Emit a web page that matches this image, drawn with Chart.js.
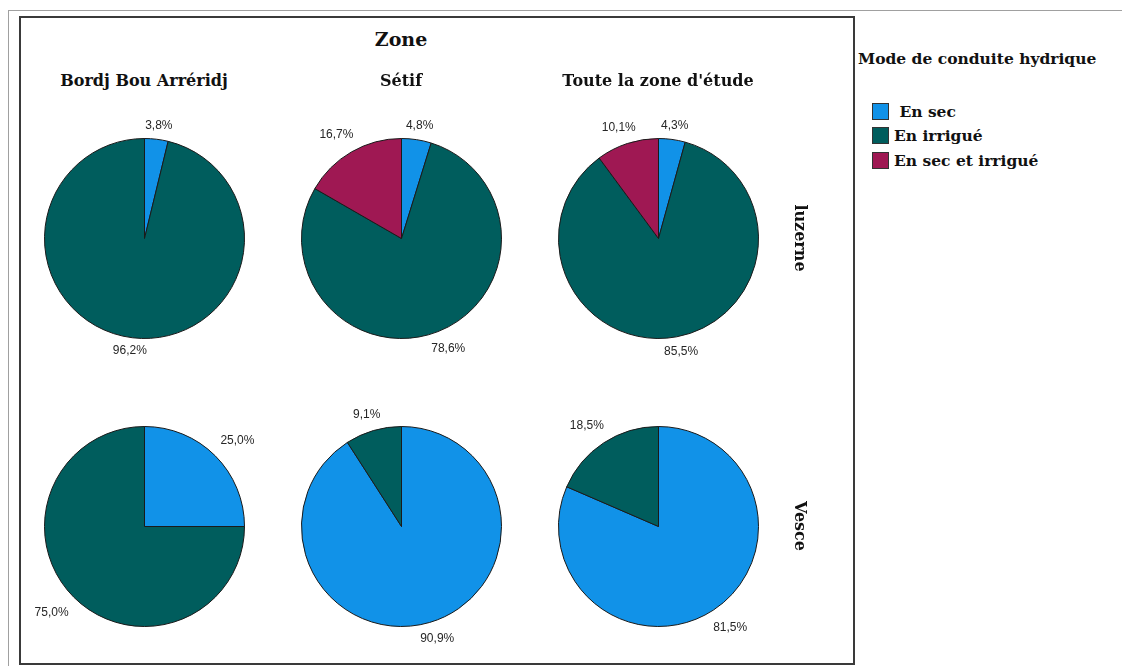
<!DOCTYPE html>
<html>
<head>
<meta charset="utf-8">
<script src="https://cdn.jsdelivr.net/npm/chart.js@4.4.1/dist/chart.umd.min.js"></script>
<style>
    body { margin: 0; background: #fff; width: 1122px; height: 666px; overflow: hidden; position: relative; font-family: "DejaVu Serif", serif; }
    #outer { position: absolute; left: 8px; top: 10px; width: 1114px; height: 660px; border-top: 1px solid #a0a0a0; border-left: 1px solid #a0a0a0; }
    #frame { position: absolute; left: 19px; top: 16px; width: 832px; height: 645px; border: 2px solid #3a3a3a; }
    .txt { position: absolute; transform: translate(-50%, -50%); white-space: nowrap; font-weight: bold; color: #111; }
    .title { font-size: 19px; }
    .head { font-size: 16px; }
    .row { font-size: 16px; writing-mode: vertical-rl; }
    .pie { position: absolute; width: 281px; height: 281px; }
    #legend { position: absolute; left: 858px; top: 49px; font-weight: bold; color: #111; }
    #legend .ltitle { font-size: 15.5px; margin-bottom: 31px; white-space: nowrap; }
    #legend .item { display: flex; align-items: center; height: 24.5px; font-size: 15.5px; margin-left: 14px; white-space: nowrap; }
    #legend .box { width: 15px; height: 15px; border: 1px solid #333; margin-right: 5px; }
</style>
</head>
<body>
<div id="outer"></div>
<div id="frame"></div>
<div class="txt title" style="left:401px;top:39px">Zone</div>
<div id="pies"></div>
<div id="legend"></div>

<script>
const categories = ['En sec', 'En irrigué', 'En sec et irrigué'];
const zones = ['Bordj Bou Arréridj', 'Sétif', "Toute la zone d'étude"];
const crops = ['luzerne', 'Vesce'];

// % per zone, in category order
const luzerneValues = [
    [3.8, 96.2, 0],
    [4.8, 78.6, 16.7],
    [4.3, 85.5, 10.1]
];
const vesceValues = [
    [25.0, 75.0, 0],
    [90.9, 9.1, 0],
    [81.5, 18.5, 0]
];

const colors = ['#1192e8', '#005d5d', '#9f1853'];
const colX = [144, 401, 658];
const rowY = [238, 526];

// percentage labels outside each slice
const pctLabels = {
    id: 'pctLabels',
    afterDatasetsDraw(chart) {
        const ctx = chart.ctx;
        const values = chart.data.datasets[0].data;
        ctx.save();
        ctx.font = '12px "Liberation Sans", Arial, sans-serif';
        ctx.fillStyle = '#262626';
        ctx.textAlign = 'center';
        ctx.textBaseline = 'middle';
        chart.getDatasetMeta(0).data.forEach((arc, i) => {
            const v = values[i];
            if (!v) return;
            const p = arc.getProps(['x', 'y', 'startAngle', 'endAngle', 'outerRadius'], true);
            const mid = (p.startAngle + p.endAngle) / 2;
            const cos = Math.cos(mid), sin = Math.sin(mid);
            const text = v.toFixed(1).replace('.', ',') + '%';
            const w = ctx.measureText(text).width;
            // corner labels sit a little further out
            const r = (p.outerRadius + 4) * (1 + 0.1 * Math.abs(Math.sin(2 * mid)));
            ctx.fillText(text, p.x + cos * (r + w / 2), p.y + sin * (r + 7));
        });
        ctx.restore();
    }
};

function addText(cls, text, x, y) {
    const el = document.createElement('div');
    el.className = 'txt ' + cls;
    el.style.left = x + 'px';
    el.style.top = y + 'px';
    el.textContent = text;
    document.body.appendChild(el);
}

function drawPie(values, cx, cy) {
    const wrap = document.createElement('div');
    wrap.className = 'pie';
    wrap.style.left = (cx - 140) + 'px';
    wrap.style.top = (cy - 140) + 'px';
    const canvas = document.createElement('canvas');
    canvas.width = 281;
    canvas.height = 281;
    wrap.appendChild(canvas);
    document.getElementById('pies').appendChild(wrap);

    new Chart(canvas.getContext('2d'), {
        type: 'pie',
        data: {
            labels: categories,
            datasets: [{
                data: values,
                backgroundColor: colors,
                borderColor: '#1a1a1a',
                borderWidth: 1
            }]
        },
        options: {
            responsive: false,
            animation: false,
            layout: { padding: 40 },
            plugins: { legend: { display: false }, tooltip: { enabled: false } }
        },
        plugins: [pctLabels]
    });
}

zones.forEach((z, i) => addText('head', z, colX[i], 80));
crops.forEach((c, i) => addText('row', c, 800, rowY[i]));

luzerneValues.forEach((vals, i) => drawPie(vals, colX[i], rowY[0]));
vesceValues.forEach((vals, i) => drawPie(vals, colX[i], rowY[1]));

// legend
const legend = document.getElementById('legend');
legend.innerHTML = '<div class="ltitle">Mode de conduite hydrique</div>';
categories.forEach((cat, i) => {
    const item = document.createElement('div');
    item.className = 'item';
    item.innerHTML = `<div class="box" style="background:${colors[i]}"></div><span>${i === 0 ? '&nbsp;' : ''}${cat}</span>`;
    legend.appendChild(item);
});
</script>
</body>
</html>
